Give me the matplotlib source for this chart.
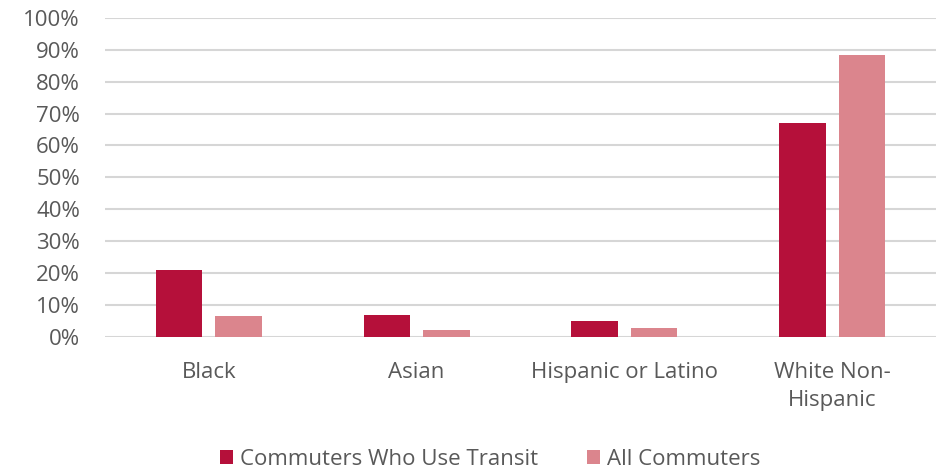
import matplotlib
matplotlib.use("Agg")
import matplotlib.pyplot as plt
from matplotlib.ticker import PercentFormatter
import numpy as np

categories = ["Black", "Asian", "Hispanic or Latino", "White Non-\nHispanic"]
transit = [0.209, 0.068, 0.049, 0.671]
all_commuters = [0.065, 0.022, 0.027, 0.883]
series_names = ["Commuters Who Use Transit", "All Commuters"]

dark_red = "#B5103A"
pink = "#DB858D"
grey = "#595959"

plt.rcParams["font.family"] = ["Open Sans", "DejaVu Sans"]

fig = plt.figure(figsize=(9.39, 4.71), dpi=100, facecolor="white")
ax = fig.add_axes([0.1118, 0.285, 0.885, 0.677])

x = np.arange(len(categories))
w = 0.224
off = 0.1435
ax.bar(x - off, transit, w, color=dark_red, label=series_names[0], zorder=3)
ax.bar(x + off, all_commuters, w, color=pink, label=series_names[1], zorder=3)

ax.set_xlim(-0.5, 3.5)
ax.set_ylim(0, 1.0)
ax.set_yticks(np.arange(0, 1.01, 0.1))
ax.yaxis.set_major_formatter(PercentFormatter(1.0, decimals=0))
ax.grid(axis="y", color="#D6D6D6", linewidth=1.5, zorder=0)
ax.set_axisbelow(True)
for s in ax.spines.values():
    s.set_visible(False)

ax.set_xticks(x)
ax.set_xticklabels(categories, linespacing=1.45)
ax.tick_params(axis="x", length=0, pad=18, labelsize=16, labelcolor=grey)
ax.tick_params(axis="y", length=0, pad=18, labelsize=16, labelcolor=grey)

fig.legend(loc="center", bbox_to_anchor=(490 / 939, 0.025), ncol=2,
           frameon=False, fontsize=16, labelcolor=grey,
           handlelength=0.6, handleheight=0.6, handletextpad=0.3,
           columnspacing=2.2)

plt.savefig("out.png", dpi=100, facecolor="white")
